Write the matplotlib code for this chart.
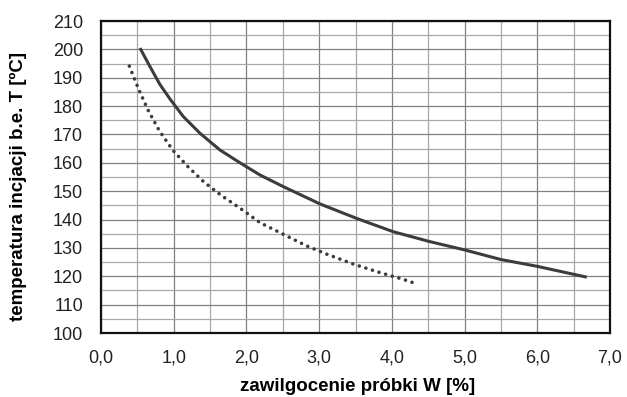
import numpy as np
import matplotlib.pyplot as plt
from matplotlib.ticker import MultipleLocator

plt.rcParams['font.family'] = ['Liberation Sans', 'DejaVu Sans']

# solid curve
w_solid = [0.546, 0.674, 0.811, 0.949, 1.132, 1.362, 1.637, 1.912, 2.187, 2.508,
           3.012, 3.516, 4.02, 4.525, 5.0, 5.5, 6.0, 6.66]
t_solid = [200.0, 193.9, 187.6, 182.5, 176.3, 170.4, 164.5, 160.0, 155.7, 151.6,
           145.5, 140.4, 135.7, 132.2, 129.3, 125.9, 123.5, 119.8]

# dotted curve
w_dot = [0.39, 0.518, 0.651, 0.802, 0.986, 1.197, 1.417, 1.655, 1.912, 2.187,
         2.499, 2.829, 3.104, 3.47, 3.837, 4.158, 4.342]
t_dot = [194.1, 185.9, 178.4, 171.3, 164.5, 158.6, 153.2, 148.5, 144.0, 138.9,
         134.9, 130.7, 127.8, 124.3, 121.3, 118.9, 117.3]

x_ticks = np.arange(0, 7.01, 1.0)
x_labels = ["0,0", "1,0", "2,0", "3,0", "4,0", "5,0", "6,0", "7,0"]

fig = plt.figure(figsize=(6.27, 3.97), dpi=100)
ax = fig.add_axes([101/627, 1 - 333/397, 509/627, 312/397])

ax.plot(w_solid, t_solid, color='#3c3c3c', lw=2.2, solid_joinstyle='round', zorder=3)
ax.plot(w_dot, t_dot, color='#3c3c3c', lw=2.6, linestyle=(0, (0.01, 1.9)),
        dash_capstyle='round', zorder=3)

ax.set_xlim(0, 7)
ax.set_ylim(100, 210)
ax.set_xticks(x_ticks)
ax.set_xticklabels(x_labels)
ax.set_yticks(np.arange(100, 211, 10))
ax.xaxis.set_minor_locator(MultipleLocator(0.5))
ax.yaxis.set_minor_locator(MultipleLocator(5))
ax.grid(which='major', color='#808080', lw=0.9)
ax.grid(which='minor', color='#a8a8a8', lw=0.9)
ax.set_axisbelow(True)

ax.tick_params(which='both', length=0, labelsize=13, colors='#222222')
ax.tick_params(axis='x', pad=12)
ax.tick_params(axis='y', pad=13)
for s in ax.spines.values():
    s.set_linewidth(1.6)
    s.set_color('#111111')

ax.set_xlabel("zawilgocenie próbki W [%]", fontsize=13.5, fontweight='bold')
ax.set_ylabel("temperatura incjacji b.e. T [ºC]", fontsize=13.5, fontweight='bold')
ax.xaxis.set_label_coords(0.505, -0.145)
ax.yaxis.set_label_coords(-0.145, 0.47)
ax.xaxis.label.set_va('top')

fig.savefig("out.png", dpi=100)
